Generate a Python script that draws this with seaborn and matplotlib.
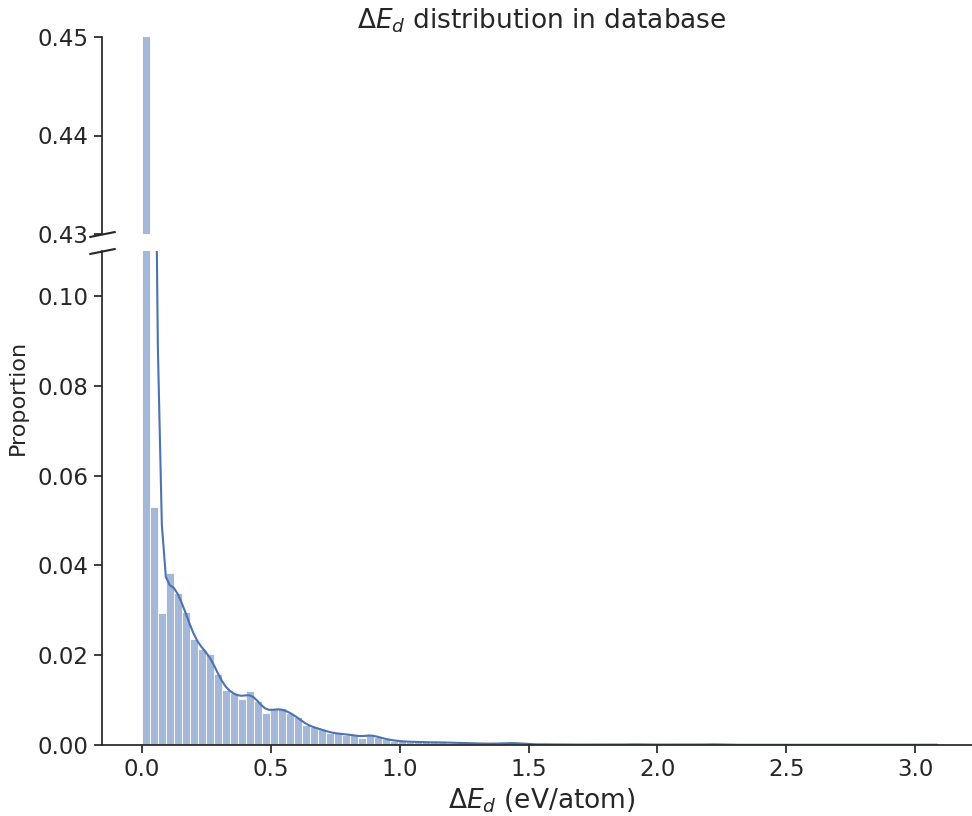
import numpy as np
import pandas as pd
import matplotlib
matplotlib.use("Agg")
import matplotlib.pyplot as plt
from matplotlib.ticker import FormatStrFormatter
import seaborn as sns

# Histogram layout: equal-width bins starting at zero
bin_start = 0.0
bin_width = 0.031

# Proportion of database entries falling into each bin (100 bins)
proportions = [
    0.6000, 0.0531, 0.0295, 0.0382, 0.0338, 0.0296, 0.0237, 0.0214, 0.0203, 0.0157,
    0.0122, 0.0115, 0.0102, 0.0121, 0.0099, 0.0071, 0.0080, 0.0082, 0.0072, 0.0062,
    0.0045, 0.0039, 0.0035, 0.0027, 0.0026, 0.0023, 0.0023, 0.0016, 0.0025, 0.0018,
    0.0013, 0.0010, 0.0008, 0.0007, 0.0007, 0.0006, 0.0006, 0.0006, 0.0005, 0.0005,
    0.0004, 0.0004, 0.0003, 0.0003, 0.0003, 0.0004, 0.0005, 0.0003, 0.0002, 0.0001,
    0.0002, 0.0001, 0.0001, 0.0001, 0.0001, 0.0001, 0.0001, 0.0001, 0.0001, 0.0001,
    0.0001, 0.0002, 0.0001, 0.0001, 0.0001, 0.0001, 0.0001, 0.0001, 0.0001, 0.0001,
    0.0001, 0.0002, 0.0001, 0.00005, 0.00005, 0.00005, 0.00005, 0.00005, 0.00005, 0.00005,
    0.00005, 0.00005, 0.00005, 0.00005, 0.00005, 0.00005, 0.00005, 0.00005, 0.00005, 0.00005,
    0.00005, 0.00005, 0.00005, 0.00005, 0.00005, 0.00005, 0.00005, 0.00005, 0.00005, 0.0001,
]

x_ticks = [0.0, 0.5, 1.0, 1.5, 2.0, 2.5, 3.0]
low_ticks = [0.00, 0.02, 0.04, 0.06, 0.08, 0.10]
high_ticks = [0.43, 0.44, 0.45]
low_range = (0.0, 0.11)
high_range = (0.43, 0.45)

props = np.asarray(proportions)
edges = bin_start + bin_width * np.arange(len(props) + 1)
centers = 0.5 * (edges[:-1] + edges[1:])
df = pd.DataFrame({"dE": centers, "w": props})

# KDE bandwidth of about 0.0245 eV/atom
sd = np.sqrt(np.cov(centers, aweights=props))
bw = float(0.0245 / sd)

sns.set_theme(style="ticks", font_scale=1.5)
plt.rcParams["font.family"] = ["DejaVu Sans"]

fig = plt.figure(figsize=(9.72, 8.16), dpi=100)
W, H = 972, 816
x0, x1 = 102, 981
ax_top = fig.add_axes([x0 / W, 1 - 234 / H, (x1 - x0) / W, (234 - 37) / H])
ax_bot = fig.add_axes([x0 / W, 1 - 745 / H, (x1 - x0) / W, (745 - 251) / H],
                      sharex=ax_top)

for ax in (ax_top, ax_bot):
    sns.histplot(data=df, x="dE", weights="w", binwidth=bin_width,
                 binrange=(float(edges[0]), float(edges[-1])), stat="proportion",
                 kde=True, kde_kws={"bw_method": bw}, alpha=0.5,
                 line_kws={"linewidth": 1.5}, ax=ax)
    ax.set_ylabel("")

ax_top.set_ylim(*high_range)
ax_bot.set_ylim(*low_range)
ax_top.set_yticks(high_ticks)
ax_bot.set_yticks(low_ticks)
ax_top.yaxis.set_major_formatter(FormatStrFormatter("%.2f"))
ax_bot.yaxis.set_major_formatter(FormatStrFormatter("%.2f"))
ax_bot.set_xticks(x_ticks)
ax_bot.xaxis.set_major_formatter(FormatStrFormatter("%.1f"))

sns.despine(ax=ax_top, bottom=True)
sns.despine(ax=ax_bot)
ax_top.tick_params(axis="x", which="both", bottom=False, labelbottom=False)
ax_top.set_xlabel("")

# diagonal break marks on the y axis
d = 0.2
kw = dict(marker=[(-1, -d), (1, d)], markersize=19, linestyle="none",
          color=".15", mec=".15", mew=1.5, clip_on=False)
ax_top.plot([0], [0], transform=ax_top.transAxes, **kw)
ax_bot.plot([0], [1], transform=ax_bot.transAxes, **kw)

ax_top.set_title(r"$\Delta E_d$ distribution in database", fontsize=19)
ax_bot.set_xlabel(r"$\Delta E_d$ (eV/atom)", fontsize=19)
fig.text(18 / W, 1 - 397 / H, "Proportion", rotation=90, ha="center",
         va="center", fontsize=16)

fig.savefig("out.png", dpi=100)
